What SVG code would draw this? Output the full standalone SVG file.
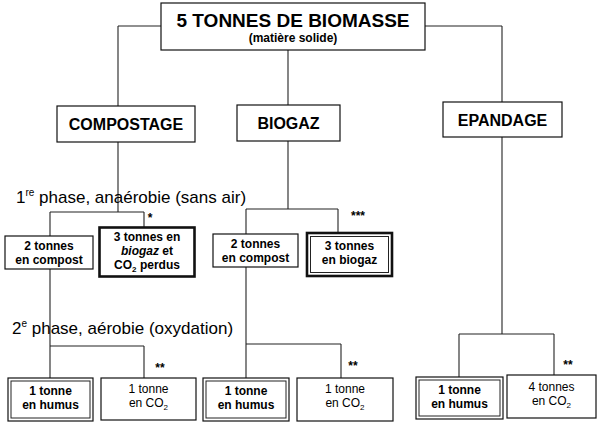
<svg xmlns="http://www.w3.org/2000/svg" width="600" height="430" viewBox="0 0 600 430">
<style>
.box{fill:#fff;stroke:#111;stroke-width:1.2}
.thick{fill:#fff;stroke:#111;stroke-width:2.6}
.inner{fill:none;stroke:#222;stroke-width:1}
.b{font-family:"Liberation Sans",Arial,sans-serif;font-weight:bold;fill:#000;text-anchor:middle}
.r{font-family:"Liberation Sans",Arial,sans-serif;fill:#000;text-anchor:middle}
.ph{font-family:"Liberation Sans",Arial,sans-serif;fill:#000;font-size:17px}
.conn line{stroke:#222;stroke-width:1.1}
</style>
<rect width="600" height="430" fill="#fff"/>
<g class="conn" id="connectors">
<line x1="118" y1="26" x2="502" y2="26"/>
<line x1="118" y1="26" x2="118" y2="106"/>
<line x1="502" y1="26" x2="502" y2="102"/>
<line x1="288" y1="50" x2="288" y2="105"/>
<line x1="118" y1="142" x2="118" y2="212"/>
<line x1="50" y1="212" x2="144" y2="212"/>
<line x1="50" y1="212" x2="50" y2="236"/>
<line x1="144" y1="212" x2="144" y2="227"/>
<line x1="50" y1="269" x2="50" y2="378"/>
<line x1="50" y1="346" x2="144" y2="346"/>
<line x1="144" y1="346" x2="144" y2="378"/>
<line x1="288" y1="141" x2="288" y2="209"/>
<line x1="246" y1="209" x2="338" y2="209"/>
<line x1="246" y1="209" x2="246" y2="234"/>
<line x1="338" y1="209" x2="338" y2="232"/>
<line x1="246" y1="267" x2="246" y2="378"/>
<line x1="246" y1="344" x2="341" y2="344"/>
<line x1="341" y1="344" x2="341" y2="378"/>
<line x1="502" y1="137" x2="502" y2="334"/>
<line x1="459" y1="334" x2="554" y2="334"/>
<line x1="459" y1="334" x2="459" y2="377"/>
<line x1="554" y1="334" x2="554" y2="375"/>
</g>
<g id="biomasse">
<rect class="box" x="161" y="3" width="264" height="47"/>
<text class="b" x="293" y="27" font-size="19">5 TONNES DE BIOMASSE</text>
<text class="b" x="293" y="42" font-size="12">(matière solide)</text>
</g>
<g id="compostage">
<rect class="box" x="57" y="106" width="138" height="36"/>
<text class="b" x="126" y="130" font-size="16">COMPOSTAGE</text>
</g>
<g id="biogaz">
<rect class="box" x="237" y="105" width="103" height="36"/>
<text class="b" x="288.5" y="129" font-size="16">BIOGAZ</text>
</g>
<g id="epandage">
<rect class="box" x="443" y="102" width="119" height="35"/>
<text class="b" x="502.5" y="126" font-size="16">EPANDAGE</text>
</g>
<g id="phase1">
<text class="ph" x="16" y="203">1<tspan font-size="10" dy="-7">re</tspan><tspan dy="7"> phase, anaérobie (sans air)</tspan></text>
</g>
<g id="phase2">
<text class="ph" x="12" y="334">2<tspan font-size="10" dy="-7">e</tspan><tspan dy="7"> phase, aérobie (oxydation)</tspan></text>
</g>
<g id="marks">
<text class="b" x="150" y="222" font-size="12">*</text>
<text class="b" x="358" y="220" font-size="12">***</text>
<text class="b" x="160" y="372" font-size="12">**</text>
<text class="b" x="353" y="370" font-size="12">**</text>
<text class="b" x="568" y="369" font-size="12">**</text>
</g>
<g id="c_compost">
<rect class="box" x="5" y="236" width="88" height="33"/>
<text class="b" x="49" y="250" font-size="12">2 tonnes</text>
<text class="b" x="49" y="264" font-size="12">en compost</text>
</g>
<g id="c_perdus">
<rect class="thick" x="99.5" y="227.5" width="95" height="49"/>
<text class="b" x="147" y="241" font-size="12">3 tonnes en</text>
<text class="b" x="147" y="255" font-size="12"><tspan font-style="italic">biogaz</tspan> et</text>
<text class="b" x="147" y="269" font-size="12">CO<tspan font-size="8" dy="3">2</tspan><tspan dy="-3"> perdus</tspan></text>
</g>
<g id="b_compost">
<rect class="box" x="213" y="234" width="85" height="33"/>
<text class="b" x="255.5" y="248" font-size="12">2 tonnes</text>
<text class="b" x="255.5" y="262" font-size="12">en compost</text>
</g>
<g id="b_biogaz">
<rect class="thick" x="307" y="233" width="85" height="43"/>
<rect class="inner" x="310.5" y="236.5" width="78" height="36"/>
<text class="b" x="349.5" y="250" font-size="12">3 tonnes</text>
<text class="b" x="349.5" y="264" font-size="12">en biogaz</text>
</g>
<g id="c_humus">
<rect class="box" x="8" y="378" width="85" height="43" stroke-width="1.6"/>
<rect class="inner" x="11" y="381" width="79" height="37"/>
<text class="b" x="50.5" y="395" font-size="12">1 tonne</text>
<text class="b" x="50.5" y="409" font-size="12">en humus</text>
</g>
<g id="c_co2">
<rect class="box" x="101" y="378" width="95" height="42"/>
<text class="r" x="148.5" y="393" font-size="12">1 tonne</text>
<text class="r" x="148.5" y="407" font-size="12">en CO<tspan font-size="8" dy="3">2</tspan></text>
</g>
<g id="b_humus">
<rect class="box" x="203" y="378" width="86" height="43" stroke-width="1.6"/>
<rect class="inner" x="206" y="381" width="80" height="37"/>
<text class="b" x="246" y="395" font-size="12">1 tonne</text>
<text class="b" x="246" y="409" font-size="12">en humus</text>
</g>
<g id="b_co2">
<rect class="box" x="297" y="378" width="96" height="43"/>
<text class="r" x="345" y="393" font-size="12">1 tonne</text>
<text class="r" x="345" y="407" font-size="12">en CO<tspan font-size="8" dy="3">2</tspan></text>
</g>
<g id="e_humus">
<rect class="box" x="416" y="377" width="87" height="42" stroke-width="1.6"/>
<rect class="inner" x="419" y="380" width="81" height="36"/>
<text class="b" x="459.5" y="394" font-size="12">1 tonne</text>
<text class="b" x="459.5" y="408" font-size="12">en humus</text>
</g>
<g id="e_co2">
<rect class="box" x="507" y="375" width="89" height="43"/>
<text class="r" x="551.5" y="391" font-size="12">4 tonnes</text>
<text class="r" x="551.5" y="405" font-size="12">en CO<tspan font-size="8" dy="3">2</tspan></text>
</g>
</svg>
